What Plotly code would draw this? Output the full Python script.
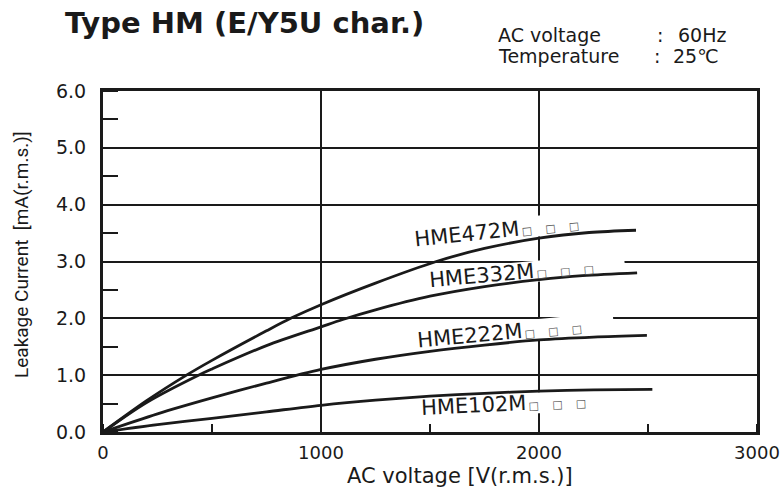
import math
import plotly.graph_objects as go

# ---------------- data ----------------
voltage_472 = [0, 200, 383, 500, 750, 861, 1000, 1250, 1529, 1750, 2000, 2230, 2445]
current_472 = [0, 0.55, 1.0, 1.26, 1.78, 2.0, 2.24, 2.62, 3.0, 3.23, 3.41, 3.51, 3.55]

voltage_332 = [0, 200, 438, 500, 750, 1000, 1100, 1250, 1500, 1750, 2000, 2200, 2450]
current_332 = [0, 0.52, 1.0, 1.11, 1.52, 1.85, 1.98, 2.15, 2.39, 2.56, 2.68, 2.75, 2.80]

voltage_222 = [0, 250, 500, 750, 1000, 1250, 1500, 1750, 2000, 2250, 2495]
current_222 = [0, 0.32, 0.60, 0.86, 1.10, 1.28, 1.42, 1.53, 1.62, 1.67, 1.70]

voltage_102 = [0, 250, 500, 750, 1000, 1250, 1500, 1750, 2000, 2250, 2520]
current_102 = [0, 0.13, 0.24, 0.355, 0.47, 0.56, 0.63, 0.68, 0.72, 0.74, 0.75]

series_names = ["HME472M", "HME332M", "HME222M", "HME102M"]
series_x = [voltage_472, voltage_332, voltage_222, voltage_102]
series_y = [current_472, current_332, current_222, current_102]

# label placement (centre of label, in data units) and tilt
label_x = [1805, 1872, 1821, 1835]
label_y = [3.545, 2.789, 1.742, 0.484]
label_angle = [-6.0, -5.0, -5.2, -2.8]

x_ticks = [0, 1000, 2000, 3000]
y_ticks = [0, 1, 2, 3, 4, 5, 6]

# ---------------- layout geometry ----------------
W, H = 782, 490
ML, MR, MT, MB = 103, 25, 91, 58
PW, PH = W - ML - MR, H - MT - MB
XR, YR = [0, 3000], [0, 6]
vx = (XR[1] - XR[0]) / PW   # data per px
vy = (YR[1] - YR[0]) / PH

FONT = "DejaVu Sans"
INK = "#1a1a1a"

fig = go.Figure()
for name, xs, ys in zip(series_names, series_x, series_y):
    fig.add_trace(go.Scatter(
        x=xs, y=ys, mode="lines", name=name,
        line=dict(color=INK, width=2.8, shape="spline", smoothing=0.9),
        hoverinfo="x+y+name", showlegend=False,
    ))

# white backgrounds behind labels (cut the grid, not the curves)
label_w_px = 172
label_h_px = 21
shapes = []
for cx, cy, ang in zip(label_x, label_y, label_angle):
    a = math.radians(-ang)  # screen angle (y downward)
    cxp = (cx - XR[0]) / vx
    cyp = (YR[1] - cy) / vy
    corners = []
    for dx, dy in [(-label_w_px / 2 - 4, -label_h_px / 2), (label_w_px / 2 + 28, -label_h_px / 2),
                   (label_w_px / 2 + 28, label_h_px / 2), (-label_w_px / 2 - 4, label_h_px / 2)]:
        rx = dx * math.cos(a) + dy * math.sin(a)
        ry = -dx * math.sin(a) + dy * math.cos(a)
        px, py = cxp + rx, cyp + ry
        corners.append((XR[0] + px * vx, YR[1] - py * vy))
    path = "M " + " L ".join(f"{u:.2f},{v:.4f}" for u, v in corners) + " Z"
    shapes.append(dict(type="path", path=path, xref="x", yref="y",
                       fillcolor="white", line=dict(width=0), layer="between"))

annotations = []
sq = "\u2009□\u2003\u2009□\u2003\u2009□"
for name, cx, cy, ang in zip(series_names, label_x, label_y, label_angle):
    annotations.append(dict(
        x=cx, y=cy, xref="x", yref="y", showarrow=False, textangle=ang,
        text=f"{name}<span style='font-size:11px;color:#555555'>{sq}</span>",
        font=dict(family=FONT, size=21, color=INK),
    ))

def px_note(text, x, y, size, xanchor="left", angle=0, family=FONT):
    return dict(x=x, y=H - y, xref="paper", yref="paper", showarrow=False,
                text=text, xanchor=xanchor, yanchor="middle", textangle=angle,
                font=dict(family=family, size=size, color=INK))

# title and conditions
annotations.append(px_note("<b>Type HM (E/Y5U char.)</b>", 63, 23, 29))
annotations.append(px_note("AC voltage", 496, 35, 19))
annotations.append(px_note(":", 660, 35, 19, xanchor="center"))
annotations.append(px_note("60Hz", 676, 35, 19))
annotations.append(px_note("Temperature", 496, 56, 19))
annotations.append(px_note(":", 657, 56, 19, xanchor="center"))
annotations.append(px_note("25℃", 671, 56, 19))
# axis titles
annotations.append(px_note("AC voltage [V(r.m.s.)]", 460, 476, 21, xanchor="center"))
annotations.append(px_note("Leakage Current  [mA(r.m.s.)]", 21, 255, 19,
                           xanchor="center", angle=-90, family="Roboto"))

# convert paper annotations (given in px) to paper fractions relative to plot area
for an in annotations:
    if an["xref"] == "paper":
        an["x"] = (an["x"] - ML) / PW
        an["y"] = (an["y"] - MB) / PH

fig.update_layout(
    width=W, height=H, autosize=False,
    margin=dict(l=ML, r=MR, t=MT, b=MB, pad=0, autoexpand=False),
    paper_bgcolor="white", plot_bgcolor="white",
    shapes=shapes, annotations=annotations,
    font=dict(family=FONT, color=INK),
)
fig.update_xaxes(
    range=XR, tickvals=x_ticks, ticktext=[str(v) for v in x_ticks],
    showgrid=True, gridcolor=INK, gridwidth=2, zeroline=False,
    showline=True, linecolor=INK, linewidth=3, mirror=True, automargin=False,
    ticks="", tickfont=dict(family=FONT, size=18, color=INK),
    ticklabelstandoff=2,
    minor=dict(dtick=500, tick0=0, ticks="inside", ticklen=8, tickwidth=2,
               tickcolor=INK, showgrid=False),
    fixedrange=True,
)
fig.update_yaxes(
    range=YR, tickvals=y_ticks, ticktext=[f"{v:.1f}" for v in y_ticks],
    showgrid=True, gridcolor=INK, gridwidth=2, zeroline=False,
    showline=True, linecolor=INK, linewidth=3, mirror=True, automargin=False,
    ticks="", tickfont=dict(family=FONT, size=19, color=INK),
    ticklabelstandoff=10,
    minor=dict(dtick=0.5, tick0=0, ticks="inside", ticklen=15, tickwidth=2,
               tickcolor=INK, showgrid=False),
    fixedrange=True,
)

fig.write_html(
    "out.html",
    config={"responsive": False, "displayModeBar": False},
    post_script="document.body.style.margin='0px';",
)
